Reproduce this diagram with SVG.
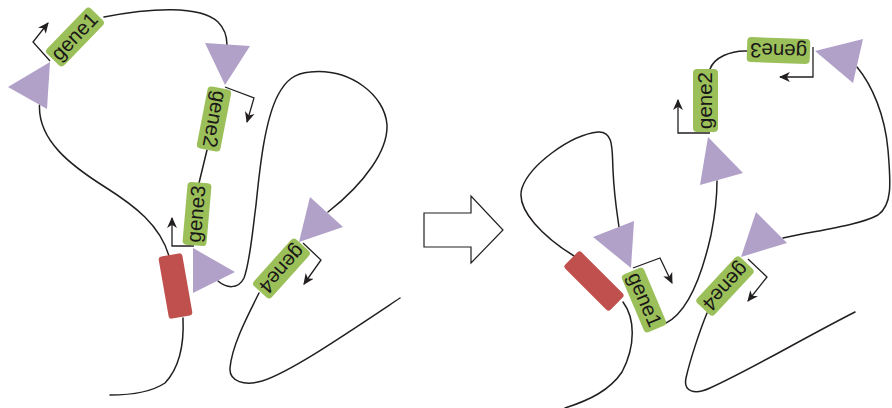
<svg xmlns="http://www.w3.org/2000/svg" width="892" height="408" viewBox="0 0 892 408">
  <style>
    .dna { fill: none; stroke: #231f20; stroke-width: 1.5; stroke-linecap: round; }
    .prom { fill: none; stroke: #231f20; stroke-width: 1.3; marker-end: url(#tip); }
    .gene rect { fill: #9bc05a; }
    .gene text { font-family: "Liberation Sans", Arial, sans-serif; font-size: 20.5px; fill: #1a1718; text-anchor: middle; }
    .site { fill: #b1a1c9; }
    .block { fill: #c0504d; }
    .bigarrow { fill: #ffffff; stroke: #231f20; stroke-width: 1.2; }
  </style>
  <defs>
    <marker id="tip" viewBox="0 0 10 10" refX="9" refY="5" markerUnits="userSpaceOnUse" markerWidth="11" markerHeight="11" orient="auto">
      <path d="M0,0.5 L10,5 L0,9.5 L2.8,5 z" fill="#231f20"/>
    </marker>
  </defs>

  <!-- chromatin fibre and promoter arrows -->
  <g id="connectors">
    <!-- left configuration -->
    <path class="dna" d="M39.5,105 C38,140 70,165 105,187 C135,206 160,225 169,256"/>
    <path class="dna" d="M183,318 C184,340 182,365 165,383 C150,393 130,395 110,395"/>
    <path class="dna" d="M104,17 C150,8 200,5 218,22 C224,28 227,36 227,45"/>
    <path class="dna" d="M207,150 L199,183"/>
    <path class="dna" d="M218,281 C226,288 238,290 244,278 C250,262 252,235 256,205 C260,165 265,120 278,95 C286,80 295,73 310,72 C350,68 385,95 387,125 C388,150 365,183 328,212"/>
    <path class="dna" d="M259,293 C248,315 232,345 230,368 C229,382 245,386 262,381 C290,372 340,338 400,298"/>

    <path class="prom" d="M50,61 L33,42 L48,23"/>
    <path class="prom" d="M225,87 L254,98 L247,122"/>
    <path class="prom" d="M194,246 L172,246 L172,218"/>
    <path class="prom" d="M303,243 L321,260 L304,284"/>

    <!-- right configuration -->
    <path class="dna" d="M574,256 C545,238 515,210 522,188 C530,165 570,135 598,132 C614,131 612,150 613,170 C614,195 617,213 619,227"/>
    <path class="dna" d="M623,302 C635,318 636,345 622,372 C610,390 590,400 565,408"/>
    <path class="dna" d="M666,323 C688,312 702,275 711,235 C716,210 717,195 717,181"/>
    <path class="dna" d="M710,69 C714,58 730,50 748,51"/>
    <path class="dna" d="M857,67 C872,85 885,115 888,150 C891,185 892,205 878,215 C860,225 820,230 783,238"/>
    <path class="dna" d="M707,313 C700,330 690,360 686,378 C683,392 695,395 710,388 C750,370 800,340 855,312"/>

    <path class="prom" d="M633,268 L660,258 L672,283"/>
    <path class="prom" d="M710,133 L678,133 L678,100"/>
    <path class="prom" d="M813,47 L813,77 L780,77"/>
    <path class="prom" d="M748,259 L767,277 L748,301"/>
  </g>

  <!-- binding sites -->
  <g id="site-l1"><polygon class="site" points="8,87 50,62 47,109"/></g>
  <g id="site-l2"><polygon class="site" points="205,43 250,46 225,85"/></g>
  <g id="site-l3"><polygon class="site" points="193,248 235,272 193,293"/></g>
  <g id="site-l4"><polygon class="site" points="310,197 343,227 299,242"/></g>
  <g id="site-r1"><polygon class="site" points="593,237 634,221 631,268"/></g>
  <g id="site-r2"><polygon class="site" points="708,137 743,173 700,185"/></g>
  <g id="site-r3"><polygon class="site" points="815,51 863,39 853,83"/></g>
  <g id="site-r4"><polygon class="site" points="756,212 787,243 741,257"/></g>

  <!-- insulator blocks -->
  <g id="block-left" transform="translate(175.5,286) rotate(80)">
    <rect class="block" x="-31.5" y="-12" width="63" height="24" rx="3"/>
  </g>
  <g id="block-right" transform="translate(594,281) rotate(45)">
    <rect class="block" x="-32" y="-11.5" width="64" height="23" rx="3"/>
  </g>

  <!-- genes, left -->
  <g id="gene1-left" class="gene" transform="translate(75,37) rotate(-46)">
    <rect x="-31.5" y="-12" width="63" height="24" rx="4"/>
    <text x="0" y="6">gene1</text>
  </g>
  <g id="gene2-left" class="gene" transform="translate(214,119) rotate(101)">
    <rect x="-31.5" y="-12" width="63" height="24" rx="4"/>
    <text x="0" y="6">gene2</text>
  </g>
  <g id="gene3-left" class="gene" transform="translate(197,214) rotate(-85)">
    <rect x="-31.5" y="-12" width="63" height="24" rx="4"/>
    <text x="0" y="6">gene3</text>
  </g>
  <g id="gene4-left" class="gene" transform="translate(281.5,268.5) rotate(132)">
    <rect x="-31.5" y="-12" width="63" height="24" rx="4"/>
    <text x="0" y="6">gene4</text>
  </g>

  <!-- transition arrow -->
  <g id="transition">
    <polygon class="bigarrow" points="424,213 471,213 471,196 503,230 471,263 471,247 424,247"/>
  </g>

  <!-- genes, right -->
  <g id="gene1-right" class="gene" transform="translate(644,300) rotate(67)">
    <rect x="-31.5" y="-12" width="63" height="24" rx="4"/>
    <text x="0" y="6">gene1</text>
  </g>
  <g id="gene2-right" class="gene" transform="translate(705.5,100.5) rotate(-90)">
    <rect x="-31.5" y="-12.5" width="63" height="25" rx="4"/>
    <text x="0" y="6.5">gene2</text>
  </g>
  <g id="gene3-right" class="gene" transform="translate(778.5,50.5) rotate(182)">
    <rect x="-31.5" y="-12.5" width="63" height="25" rx="4"/>
    <text x="0" y="6.5">gene3</text>
  </g>
  <g id="gene4-right" class="gene" transform="translate(725,286) rotate(133)">
    <rect x="-31.5" y="-12" width="63" height="24" rx="4"/>
    <text x="0" y="6">gene4</text>
  </g>
</svg>
